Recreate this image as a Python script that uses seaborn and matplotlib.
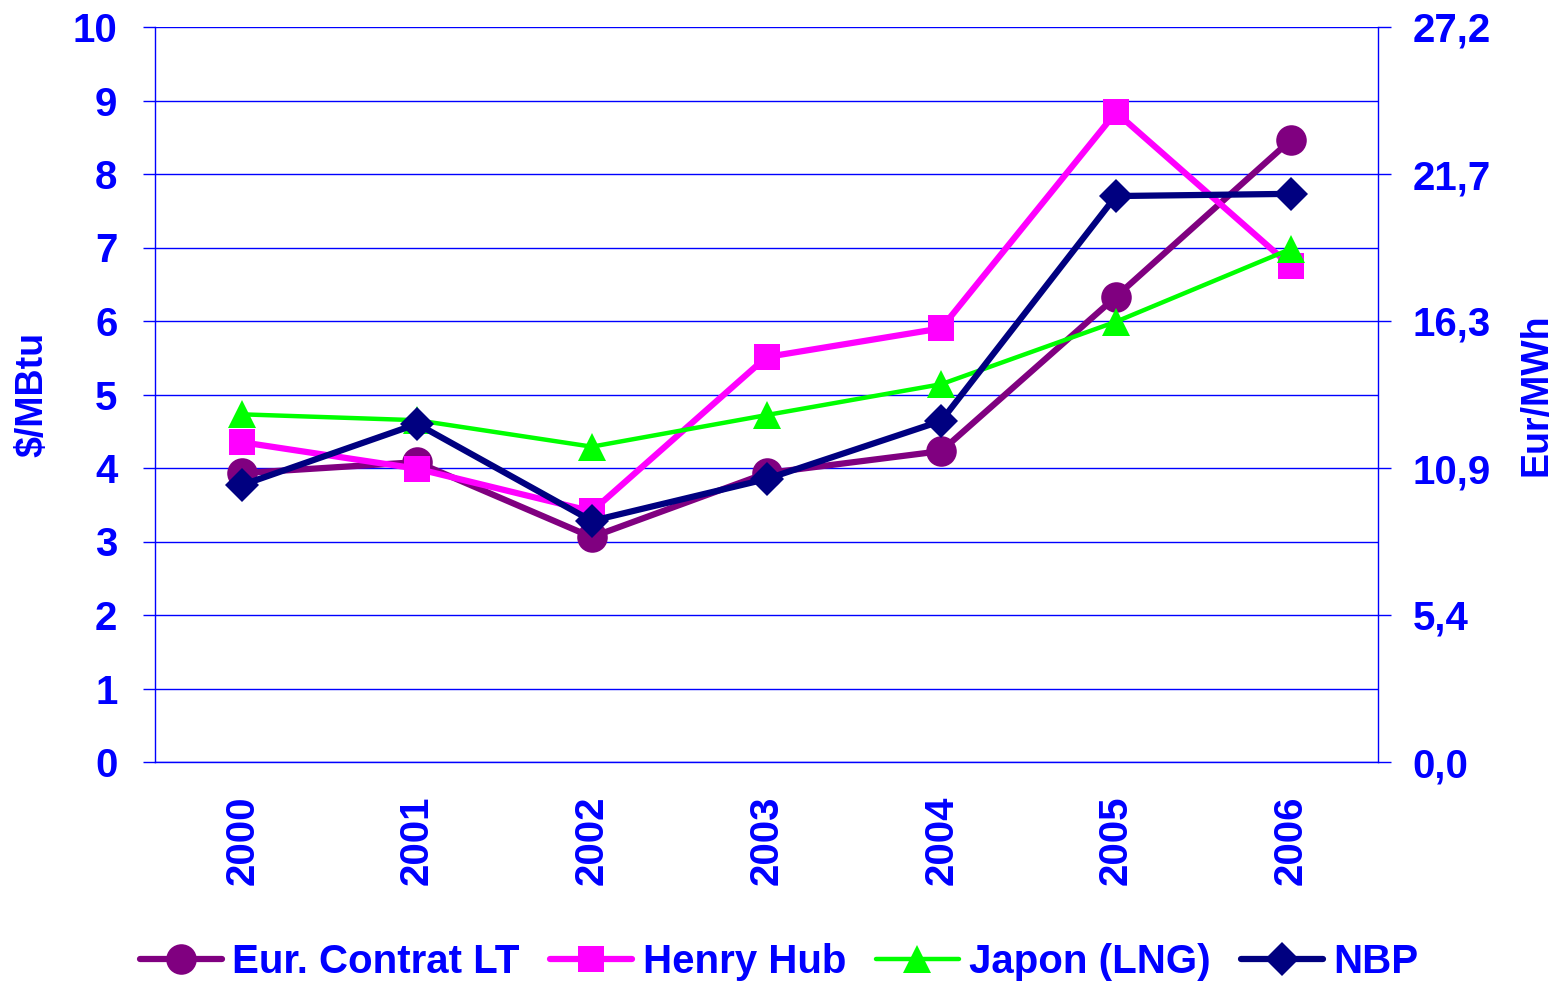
import numpy as np
import pandas as pd
import seaborn as sns
import matplotlib
matplotlib.use('Agg')
import matplotlib.pyplot as plt

# data
years = ['2000', '2001', '2002', '2003', '2004', '2005', '2006']
eur_contrat = [3.93, 4.08, 3.06, 3.93, 4.23, 6.33, 8.46]
henry_hub = [4.35, 3.99, 3.41, 5.51, 5.90, 8.84, 6.75]
japon_lng = [4.73, 4.65, 4.29, 4.72, 5.14, 5.99, 6.98]
nbp = [3.77, 4.60, 3.28, 3.85, 4.64, 7.70, 7.73]
series_names = ['Eur. Contrat LT', 'Henry Hub', 'Japon (LNG)', 'NBP']
left_ticks = [0, 1, 2, 3, 4, 5, 6, 7, 8, 9, 10]
right_labels = ['0,0', '5,4', '10,9', '16,3', '21,7', '27,2']
right_max = 27.2

sns.set_style('white')
plt.rcParams['font.family'] = ['Liberation Sans', 'DejaVu Sans']
plt.rcParams['font.weight'] = 'bold'

blue = '#0000FF'
fs = 29

fig = plt.figure(figsize=(15.54, 9.83), dpi=100)
ax = fig.add_axes([155/1554, 1-762/983, (1378-155)/1554, (762-27)/983])

x = np.arange(len(years))
styles = [
    (eur_contrat, '#800080', 'o', 22, 4.5),
    (henry_hub, '#FF00FF', 's', 19, 4.5),
    (japon_lng, '#00FF00', '^', 20, 3.2),
    (nbp, '#000080', 'D', 17, 4.5),
]
for name, (vals, col, mk, ms, lw) in zip(series_names, styles):
    sns.lineplot(x=x, y=vals, ax=ax, color=col, marker=mk, markersize=ms,
                 markeredgewidth=0, linewidth=lw, label=name)

ax.set_xlim(-0.5, len(years) - 0.5)
ax.set_ylim(0, 10)
ax.set_yticks(left_ticks)
ax.set_yticklabels([str(t) for t in left_ticks])
ax.set_xticks(x)
ax.set_xticklabels(years, rotation=90)
ax.set_xticks(np.arange(len(years) + 1) - 0.5, minor=True)
ax.tick_params(axis='x', which='major', length=0, pad=24, labelsize=fs, labelcolor=blue)
ax.tick_params(axis='x', which='minor', length=9, width=1, color=blue, direction='out')
ax.tick_params(axis='y', length=9, width=1, color=blue, direction='out', pad=18,
               labelsize=fs, labelcolor=blue, left=True)
ax.yaxis.grid(True, color=blue, linewidth=1)
ax.xaxis.grid(False)
ax.set_axisbelow(True)
for side in ['left', 'bottom']:
    ax.spines[side].set_color(blue)
    ax.spines[side].set_linewidth(1)
ax.spines['top'].set_visible(False)
ax.spines['right'].set_visible(False)
ax.set_ylabel('$/MBtu', fontsize=27, color=blue, fontweight='bold', labelpad=16)

ax2 = ax.twinx()
ax2.set_ylim(0, right_max)
ax2.set_yticks(np.linspace(0, right_max, len(right_labels)))
ax2.set_yticklabels(right_labels)
ax2.tick_params(axis='y', length=9, width=1, color=blue, direction='out', pad=16,
                labelsize=fs, labelcolor=blue)
for side in ['left', 'bottom', 'top']:
    ax2.spines[side].set_visible(False)
ax2.spines['right'].set_color(blue)
ax2.spines['right'].set_linewidth(1)
ax2.set_ylabel('Eur/MWh', fontsize=27, color=blue, fontweight='bold', labelpad=20)
ax2.grid(False)

handles, labels = ax.get_legend_handles_labels()
ax.get_legend().remove()
leg = fig.legend(handles, labels, loc='center', ncol=4, frameon=False,
                 bbox_to_anchor=(779/1554, 1-962/983), fontsize=fs,
                 handlelength=2.05, handletextpad=0.25, columnspacing=0.75)
for t in leg.get_texts():
    t.set_color(blue)

fig.savefig('out.png', dpi=100)
